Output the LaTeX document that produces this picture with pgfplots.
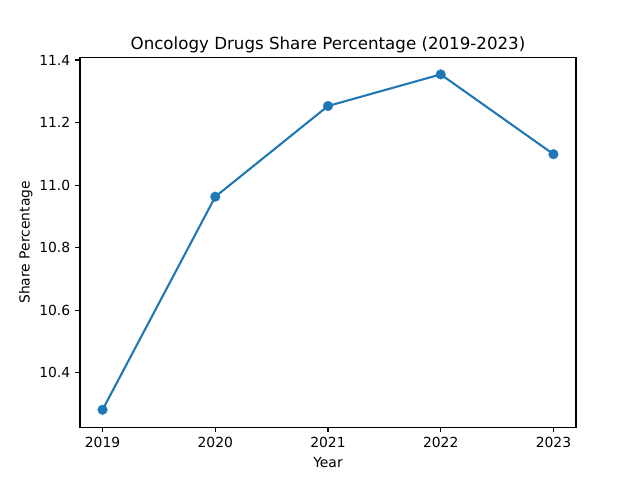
\documentclass[border=0pt]{standalone}
\usepackage{pgfplots}
\pgfplotsset{compat=1.18}
\usepackage{fontspec}
\setmainfont{DejaVu Sans}
\definecolor{mplblue}{HTML}{1F77B4}
\begin{document}
\begin{tikzpicture}
\path (0,0) rectangle (460.8pt,345.6pt);
\begin{axis}[
  at={(57.6pt,38.016pt)}, anchor=south west,
  scale only axis, width=357.12pt, height=266.112pt,
  xmin=2018.8, xmax=2023.2, ymin=10.2263, ymax=11.4077,
  xtick={2019,2020,2021,2022,2023},
  ytick={10.4,10.6,10.8,11.0,11.2,11.4},
  /pgf/number format/assume math mode=true,
  x tick label style={/pgf/number format/1000 sep={}},
  y tick label style={/pgf/number format/.cd, fixed, fixed zerofill, precision=1},
  tick label style={font=\fontsize{10}{12}\selectfont},
  tick align=outside, major tick length=3.5pt,
  tick style={line width=0.8pt, black},
  xtick pos=bottom, ytick pos=left,
  axis line style={line width=0.8pt},
  xticklabel style={yshift=-0.5pt},
  title={Oncology Drugs Share Percentage (2019-2023)},
  title style={font=\fontsize{12}{14}\selectfont, yshift=-6pt},
  xlabel={Year}, ylabel={Share Percentage},
  label style={font=\fontsize{10}{12}\selectfont},
  xlabel style={yshift=0.5pt},
  ylabel style={yshift=-2pt},
]
\addplot[color=mplblue, line width=1.5pt, mark=*, mark size=3.5pt, mark options={solid, fill=mplblue, draw=mplblue, line width=0.2pt}]
coordinates {(2019,10.282) (2020,10.963) (2021,11.253) (2022,11.354) (2023,11.099)};
\end{axis}
\end{tikzpicture}
\end{document}
